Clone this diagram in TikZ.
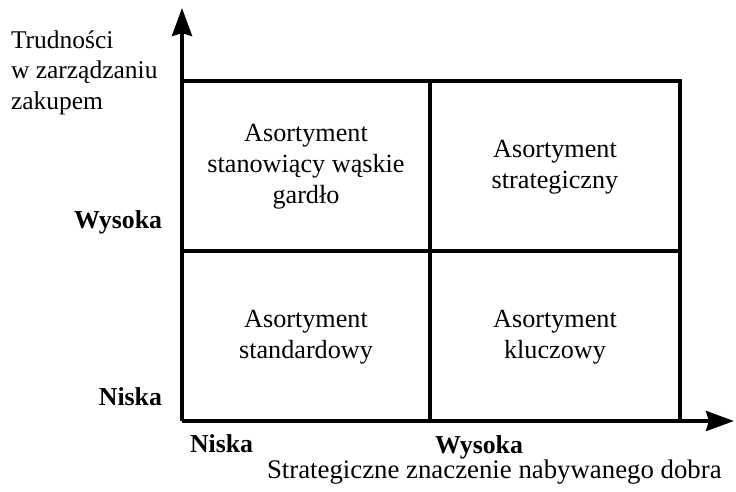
\documentclass[tikz,border=0pt]{standalone}
\usepackage{fontspec}
\setmainfont{Liberation Serif}
\usetikzlibrary{arrows.meta}
\begin{document}
\begin{tikzpicture}[x=1pt,y=-1pt,
  every node/.style={inner sep=0pt,outer sep=0pt,font=\fontsize{25.5}{30.5}\selectfont},
  gridline/.style={line width=4pt,line cap=rect},
  axis/.style={line width=4pt,-{Stealth[length=28pt,width=20pt,inset=3pt]}},
  cell/.style={align=center,font=\fontsize{26.2}{31}\selectfont},
  level/.style={font=\fontsize{25.8}{30.5}\selectfont\bfseries}]
  \useasboundingbox (0,0) rectangle (736,492);
  % grid corners and axis ends
  \coordinate (o)   at (182,421);
  \coordinate (tr)  at (680,81);
  \coordinate (tl)  at (182,81);
  \coordinate (br)  at (680,421);
  \coordinate (mt)  at (430,81);
  \coordinate (mb)  at (430,421);
  \coordinate (ml)  at (182,251);
  \coordinate (mr)  at (680,251);
  \coordinate (xend) at (734,421);
  \coordinate (yend) at (182,8);
  % matrix frame and dividers
  \draw[gridline] (tl) -- (tr) -- (br);
  \draw[gridline] (mt) -- (mb);
  \draw[gridline] (ml) -- (mr);
  % axes
  \draw[axis] (o) -- (xend);
  \draw[axis] (o) -- (yend);
  % quadrant texts
  \node[cell] (q1) at (306,167) {Asortyment\\stanowiący wąskie\\gardło};
  \node[cell] (q2) at (555,167) {Asortyment\\strategiczny};
  \node[cell] (q3) at (306,337) {Asortyment\\standardowy};
  \node[cell] (q4) at (555,337) {Asortyment\\kluczowy};
  % axis levels
  \node[level,anchor=base east] (yhi) at (162,228) {Wysoka};
  \node[level,anchor=base east] (ylo) at (162,405) {Niska};
  \node[level,anchor=base west] (xlo) at (190,452) {Niska};
  \node[level,anchor=base west] (xhi) at (435,453) {Wysoka};
  % axis titles
  \node[align=left,anchor=north west] (ytitle) at (11,30.5) {Trudności\\w zarządzaniu\\zakupem};
  \node[anchor=base west,font=\fontsize{26.8}{32}\selectfont] (xtitle) at (267,478) {Strategiczne znaczenie nabywanego dobra};
\end{tikzpicture}
\end{document}
